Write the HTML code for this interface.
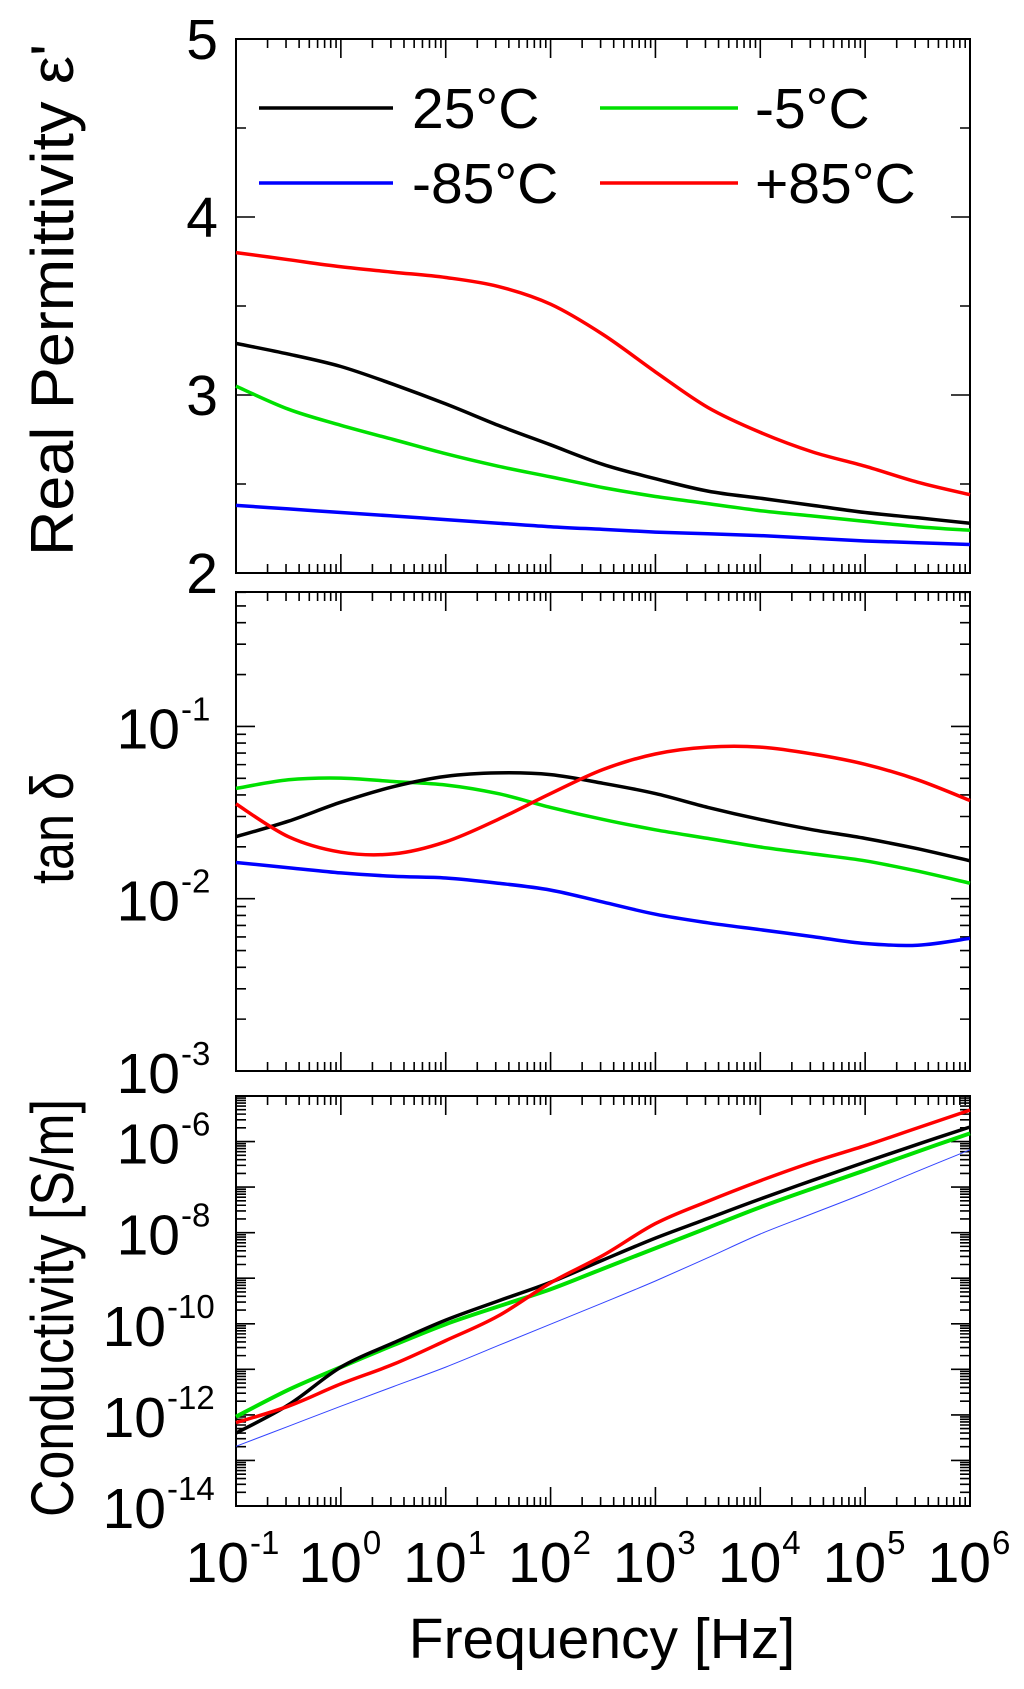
<!DOCTYPE html>
<html><head><meta charset="utf-8"><style>
html,body{margin:0;padding:0;background:#fff}
svg{display:block}
text{font-family:"Liberation Sans",sans-serif;fill:#000}
</style></head><body>
<svg id="chart" width="1024" height="1689" viewBox="0 0 1024 1689" xmlns="http://www.w3.org/2000/svg">
<g id="g"></g>
</svg>
<script>
const logFreq = [-1,-0.5,0,0.5,1,1.5,2,2.5,3,3.5,4,4.5,5,5.5,6];
// Panel 1: real permittivity
const eps25  = [3.29,3.23,3.16,3.06,2.95,2.83,2.72,2.61,2.53,2.46,2.42,2.38,2.34,2.31,2.28];
const epsM5  = [3.05,2.92,2.83,2.75,2.67,2.60,2.54,2.48,2.43,2.39,2.35,2.32,2.29,2.26,2.24];
const epsM85 = [2.38,2.36,2.34,2.32,2.30,2.28,2.26,2.245,2.23,2.22,2.21,2.195,2.18,2.17,2.16];
const epsP85 = [3.80,3.76,3.72,3.69,3.66,3.61,3.51,3.34,3.13,2.93,2.79,2.68,2.60,2.51,2.44];
// Panel 2: log10(tan delta)
const tan25  = [-1.64,-1.55,-1.44,-1.35,-1.29,-1.27,-1.28,-1.33,-1.39,-1.47,-1.54,-1.60,-1.65,-1.71,-1.78];
const tanM5  = [-1.36,-1.31,-1.30,-1.32,-1.34,-1.39,-1.47,-1.54,-1.60,-1.65,-1.70,-1.74,-1.78,-1.84,-1.91];
const tanM85 = [-1.79,-1.82,-1.85,-1.87,-1.88,-1.91,-1.95,-2.02,-2.09,-2.14,-2.18,-2.22,-2.26,-2.27,-2.23];
const tanP85 = [-1.45,-1.64,-1.73,-1.74,-1.67,-1.54,-1.39,-1.25,-1.16,-1.12,-1.12,-1.16,-1.22,-1.31,-1.43];
// Panel 3: log10(conductivity)
const sig25  = [-12.40,-11.78,-10.95,-10.42,-9.92,-9.50,-9.09,-8.60,-8.12,-7.69,-7.26,-6.85,-6.45,-6.06,-5.68];
const sigM5  = [-12.04,-11.45,-10.95,-10.47,-10.01,-9.62,-9.24,-8.79,-8.34,-7.89,-7.44,-7.03,-6.63,-6.22,-5.82];
const sigM85 = [-12.69,-12.25,-11.81,-11.38,-10.95,-10.48,-10.01,-9.54,-9.06,-8.55,-8.03,-7.58,-7.13,-6.65,-6.18];
const sigP85 = [-12.17,-11.81,-11.32,-10.89,-10.37,-9.83,-9.10,-8.50,-7.80,-7.31,-6.86,-6.45,-6.09,-5.70,-5.31];
const xTickExps = [-1,0,1,2,3,4,5,6];
const epsTicks = [2,3,4,5];
const tanTicks = [-3,-2,-1];
const sigTicks = [-14,-12,-10,-8,-6];
const seriesNames = ['25°C','-5°C','-85°C','+85°C'];

const NS='http://www.w3.org/2000/svg';
const G=document.getElementById('g');
const XL=236, XR=970;
function xs(l){return XL+(l+1)/7*(XR-XL);}
function mk(tag,attrs,parent){const e=document.createElementNS(NS,tag);for(const k in attrs)e.setAttribute(k,attrs[k]);(parent||G).appendChild(e);return e;}

function panel(name,top,bot,ymin,ymax,logY){
  const ys=v=>bot-(v-ymin)/(ymax-ymin)*(bot-top);
  const g=mk('g',{});
  
  
  const fr=mk('rect',{x:XL,y:top,width:XR-XL,height:bot-top,fill:'none',stroke:'#000','stroke-width':2},g);
  
  
  let d='';
  for(let e=-1;e<=6;e++){
    const x=xs(e);
    if(e>-1&&e<6){d+=`M${x} ${bot}v-19M${x} ${top}v19`;}
    if(e<6)for(let m=2;m<=9;m++){const xm=xs(e+Math.log10(m));d+=`M${xm} ${bot}v-9M${xm} ${top}v9`;}
  }
  if(logY){
    for(let e=Math.floor(ymin);e<=Math.ceil(ymax);e++){
      if(e>ymin&&e<=ymax){const y=ys(e);d+=`M${XL} ${y}h19M${XR} ${y}h-19`;}
      for(let m=2;m<=9;m++){const v=e+Math.log10(m);if(v>ymin&&v<ymax){const y=ys(v);d+=`M${XL} ${y}h10M${XR} ${y}h-10`;}}
    }
  }else{
    for(let v=ymin+0.5;v<ymax;v+=0.5){const y=ys(v);const L=(v%1===0)?19:10;d+=`M${XL} ${y}h${L}M${XR} ${y}h-${L}`;}
  }
  const tk=mk('path',{d:d,stroke:'#000','stroke-width':1.6,fill:'none'},g);
  
  
  return {ys:ys,g:g};
}
function curve(p,vals,color,w,name){
  // smooth with Catmull-Rom through data points
  const pts=vals.map((v,i)=>[xs(logFreq[i]),p.ys(v)]);
  let d='M'+pts[0][0].toFixed(1)+' '+pts[0][1].toFixed(1);
  for(let i=0;i<pts.length-1;i++){
    const p0=pts[Math.max(0,i-1)],p1=pts[i],p2=pts[i+1],p3=pts[Math.min(pts.length-1,i+2)];
    const c1=[p1[0]+(p2[0]-p0[0])/6,p1[1]+(p2[1]-p0[1])/6];
    const c2=[p2[0]-(p3[0]-p1[0])/6,p2[1]-(p3[1]-p1[1])/6];
    d+=`C${c1[0].toFixed(1)} ${c1[1].toFixed(1)} ${c2[0].toFixed(1)} ${c2[1].toFixed(1)} ${p2[0].toFixed(1)} ${p2[1].toFixed(1)}`;
  }
  const e=mk('path',{d:d,stroke:color,'stroke-width':w,fill:'none','stroke-linejoin':'round'},p.g);
  
  
}
function txt(s,x,y,size,anchor,parent){const t=mk('text',{x:x,y:y,'font-size':size,'text-anchor':anchor||'start'},parent);t.textContent=s;return t;}
function powLabel(exp,cx,yBase,anchorRight,name){
  const g=mk('g',{});
  
  
  const sup=String(exp);
  const supW=sup.length*16;
  let x10;
  if(anchorRight){x10=anchorRight-supW;}else{x10=cx-(58+supW)/2+58;}
  txt('10',x10,yBase,57,'end',g);
  txt(sup,x10+1,yBase-28,33,'start',g);
}

const COLORS=['#000','#00e000','#0000ff','#ff0000'];
const p1=panel('permittivity',39,573,2,5,false);
curve(p1,epsM85,COLORS[2],3.5,'eps-m85-line');
curve(p1,epsM5,COLORS[1],3.5,'eps-m5-line');
curve(p1,eps25,COLORS[0],3.5,'eps-25-line');
curve(p1,epsP85,COLORS[3],3.5,'eps-p85-line');
epsTicks.forEach(v=>{const t=txt(String(v),218,p1.ys(v)+20,57,'end');

});
const legPos=[[259,108,412],[600,108,755],[259,183,412],[600,183,755]];
const legLen=[134,138,134,138];
seriesNames.forEach((n,i)=>{
  const lg=mk('g',{});
  
  
  const [lx,ly,tx]=legPos[i];
  mk('line',{x1:lx,y1:ly,x2:lx+legLen[i],y2:ly,stroke:COLORS[i],'stroke-width':3.5},lg);
  txt(n,tx,ly+20,57,'start',lg);
});
const p2=panel('tan-delta',592,1071,-3,-0.22,true);
curve(p2,tanM85,COLORS[2],3.5,'tan-m85-line');
curve(p2,tanM5,COLORS[1],3.5,'tan-m5-line');
curve(p2,tan25,COLORS[0],3.5,'tan-25-line');
curve(p2,tanP85,COLORS[3],3.5,'tan-p85-line');
tanTicks.forEach(v=>powLabel(v,0,p2.ys(v)+22,212,'tan-tick-label'));
const p3=panel('conductivity',1096,1506,-14,-5,true);
curve(p3,sigM85,'#3344ff',1,'sig-m85-line');
curve(p3,sigM5,COLORS[1],4,'sig-m5-line');
curve(p3,sig25,COLORS[0],3.5,'sig-25-line');
curve(p3,sigP85,COLORS[3],3.5,'sig-p85-line');
sigTicks.forEach(v=>powLabel(v,0,p3.ys(v)+22,v<=-10?214:212,'sig-tick-label'));
xTickExps.forEach(e=>powLabel(e,xs(e),1582,null,'x-tick-label'));
function vtitle(s,cx,cy,len,name){
  const t=mk('text',{x:0,y:0,'font-size':60,'text-anchor':'middle',transform:`translate(${cx},${cy}) rotate(-90)`,textLength:len,lengthAdjust:'spacingAndGlyphs'});
  t.textContent=s;
  
  
}
vtitle("Real Permittivity ε'",73,300,512,'y-axis-title-permittivity');
vtitle("tan δ",73,828,112,'y-axis-title-tan-delta');
vtitle("Conductivity [S/m]",73,1308,418,'y-axis-title-conductivity');
const xt=txt('Frequency [Hz]',602,1658,57,'middle');


</script>
</body></html>
